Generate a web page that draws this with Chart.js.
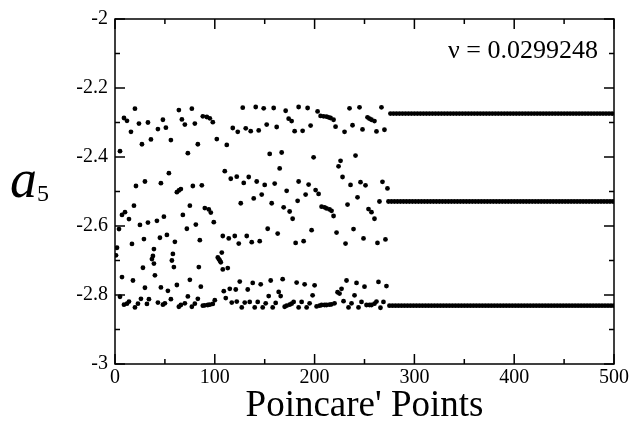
<!DOCTYPE html>
<html lang="en">
<head>
<meta charset="UTF-8">
<title>a5 Poincare' points</title>
<script src="https://cdn.jsdelivr.net/npm/chart.js@4.4.1/dist/chart.umd.min.js"></script>
<style>
  html, body { margin: 0; padding: 0; background: #fff; }
</style>
</head>
<body>
<canvas id="chart" width="632" height="426"></canvas>
<script>
// transient part
const upperX = [5,9,12,16,20,24,27,33,36,43,48,51,56,64,67,70,73,77,80,83,88,92,95,98,102,112,118,123,128,131,136,141,144,149,152,155,159,162,167,171,174,177,180,184,188,193,196,203,206,209,212,214,216,219,221,230,235,238,245,248,253,255,257,260,262,267,270];
const upperY = [-2.383,-2.287,-2.295,-2.327,-2.260,-2.303,-2.363,-2.300,-2.349,-2.319,-2.292,-2.315,-2.351,-2.264,-2.291,-2.306,-2.389,-2.260,-2.303,-2.363,-2.282,-2.284,-2.288,-2.299,-2.348,-2.365,-2.316,-2.327,-2.257,-2.317,-2.325,-2.255,-2.323,-2.259,-2.306,-2.391,-2.258,-2.313,-2.387,-2.266,-2.289,-2.296,-2.325,-2.255,-2.324,-2.258,-2.309,-2.268,-2.281,-2.282,-2.283,-2.285,-2.287,-2.292,-2.312,-2.327,-2.259,-2.308,-2.256,-2.320,-2.285,-2.289,-2.292,-2.296,-2.326,-2.256,-2.321];

const middleX = [1,2,4,7,7,10,14,17,18,19,21,25,28,29,30,30,33,37,38,39,39,40,42,45,46,46,49,52,53,54,57,58,59,60,62,62,64,66,68,72,75,75,78,81,84,85,86,87,90,94,96,99,103,104,105,106,107,108,108,110,113,114,116,120,122,124,126,129,132,134,137,139,142,145,147,150,153,157,160,163,165,169,172,175,178,181,183,184,189,191,194,197,199,201,204,207,210,212,215,217,219,222,224,226,228,231,233,236,239,241,243,246,249,251,254,257,260,263,265,268,271,273];
const middleY = [-2.685,-2.663,-2.609,-2.748,-2.568,-2.560,-2.580,-2.652,-2.758,-2.541,-2.484,-2.597,-2.721,-2.638,-2.779,-2.471,-2.590,-2.696,-2.687,-2.709,-2.667,-2.743,-2.585,-2.634,-2.778,-2.476,-2.573,-2.626,-2.788,-2.447,-2.700,-2.681,-2.719,-2.646,-2.771,-2.502,-2.497,-2.493,-2.568,-2.608,-2.756,-2.541,-2.484,-2.596,-2.719,-2.641,-2.776,-2.482,-2.548,-2.552,-2.561,-2.589,-2.691,-2.696,-2.700,-2.705,-2.677,-2.726,-2.629,-2.441,-2.722,-2.636,-2.463,-2.629,-2.457,-2.651,-2.534,-2.475,-2.629,-2.458,-2.647,-2.520,-2.471,-2.644,-2.509,-2.481,-2.608,-2.534,-2.477,-2.622,-2.433,-2.546,-2.498,-2.558,-2.579,-2.649,-2.527,-2.471,-2.644,-2.509,-2.480,-2.612,-2.401,-2.496,-2.507,-2.544,-2.546,-2.549,-2.552,-2.556,-2.571,-2.619,-2.427,-2.411,-2.458,-2.651,-2.538,-2.481,-2.609,-2.396,-2.517,-2.473,-2.636,-2.482,-2.551,-2.560,-2.579,-2.649,-2.529,-2.472,-2.639,-2.491];

const lowerX = [5,9,12,14,20,23,26,32,34,43,48,50,56,64,66,70,73,77,80,83,88,90,93,95,98,100,109,111,115,117,121,122,125,127,130,133,135,138,140,143,146,148,151,154,156,158,161,164,166,168,170,172,175,177,179,182,184,187,190,192,195,198,200,202,205,207,210,212,215,217,220,223,225,227,229,232,234,237,240,242,244,247,250,252,255,257,260,262,264,266,269,272];
const lowerY = [-2.805,-2.828,-2.825,-2.819,-2.836,-2.825,-2.811,-2.826,-2.812,-2.822,-2.828,-2.824,-2.812,-2.834,-2.829,-2.824,-2.804,-2.834,-2.825,-2.811,-2.831,-2.830,-2.829,-2.828,-2.826,-2.815,-2.789,-2.809,-2.782,-2.822,-2.784,-2.819,-2.761,-2.836,-2.822,-2.784,-2.820,-2.765,-2.836,-2.820,-2.769,-2.836,-2.824,-2.803,-2.758,-2.836,-2.823,-2.791,-2.803,-2.754,-2.834,-2.831,-2.828,-2.825,-2.820,-2.764,-2.836,-2.820,-2.769,-2.836,-2.824,-2.801,-2.772,-2.833,-2.831,-2.829,-2.829,-2.829,-2.828,-2.827,-2.824,-2.792,-2.796,-2.782,-2.818,-2.758,-2.836,-2.824,-2.801,-2.765,-2.836,-2.820,-2.776,-2.829,-2.829,-2.829,-2.825,-2.819,-2.762,-2.837,-2.820,-2.774];

// settled period-3 orbit from ~274 to the end
const tailStart = 274;
const tailEnd = 500;
const tailLevels = [-2.274, -2.529, -2.831];

const xTicks = [0, 100, 200, 300, 400, 500];
const xMinorTicks = [50, 150, 250, 350, 450];
const yTicks = [-3, -2.8, -2.6, -2.4, -2.2, -2];
const yMinorTicks = [-2.9, -2.7, -2.5, -2.3, -2.1];

const nuLabel = 'ν = 0.0299248';

const pts = [];
upperX.forEach((x, i) => pts.push({x: x, y: upperY[i]}));
middleX.forEach((x, i) => pts.push({x: x, y: middleY[i]}));
lowerX.forEach((x, i) => pts.push({x: x, y: lowerY[i]}));
for (let i = tailStart; i <= tailEnd; i++) {
  pts.push({x: i, y: tailLevels[i % 3]});
}

const serif = '"Liberation Serif", "DejaVu Serif", serif';

const frame = {
  id: 'frame',
  afterDatasetsDraw(chart) {
    const ctx = chart.ctx;
    const a = chart.chartArea;
    const sx = chart.scales.x, sy = chart.scales.y;
    ctx.save();
    ctx.strokeStyle = '#000';
    ctx.lineWidth = 1.5;
    ctx.strokeRect(a.left, a.top, a.right - a.left, a.bottom - a.top);
    ctx.beginPath();
    const xt = (v, len) => {
      const p = sx.getPixelForValue(v);
      ctx.moveTo(p, a.bottom); ctx.lineTo(p, a.bottom - len);
      ctx.moveTo(p, a.top); ctx.lineTo(p, a.top + len);
    };
    const yt = (v, len) => {
      const p = sy.getPixelForValue(v);
      ctx.moveTo(a.left, p); ctx.lineTo(a.left + len, p);
      ctx.moveTo(a.right, p); ctx.lineTo(a.right - len, p);
    };
    xTicks.forEach(v => xt(v, 10));
    xMinorTicks.forEach(v => xt(v, 5));
    yTicks.forEach(v => yt(v, 10));
    yMinorTicks.forEach(v => yt(v, 5));
    ctx.stroke();

    // nu annotation
    ctx.fillStyle = '#000';
    ctx.font = '26px ' + serif;
    ctx.textAlign = 'right';
    ctx.textBaseline = 'alphabetic';
    ctx.fillText(nuLabel, 598, 58);

    // y title: a with subscript 5
    ctx.textAlign = 'left';
    ctx.font = 'italic 54px ' + serif;
    ctx.fillText('a', 10, 197);
    ctx.font = '24px ' + serif;
    ctx.fillText('5', 37, 201);
    ctx.restore();
  }
};

new Chart(document.getElementById('chart'), {
  type: 'scatter',
  data: {
    datasets: [{
      data: pts,
      backgroundColor: '#000',
      borderColor: '#000',
      pointRadius: 2.4,
      borderWidth: 0
    }]
  },
  options: {
    responsive: false,
    animation: false,
    devicePixelRatio: 1,
    layout: { padding: { top: 17, right: 18, left: 0, bottom: 0 } },
    plugins: { legend: { display: false }, tooltip: { enabled: false } },
    scales: {
      x: {
        type: 'linear', min: 0, max: 500,
        afterFit: s => { s.height = 62; },
        grid: { display: false, drawTicks: false },
        border: { display: false },
        ticks: { stepSize: 100, padding: 2, color: '#000', font: { family: serif, size: 20 } },
        title: { display: true, text: "Poincare' Points", color: '#000', font: { family: serif, size: 37, lineHeight: 1.05 }, padding: 0 }
      },
      y: {
        type: 'linear', min: -3, max: -2,
        afterFit: s => { s.width = 115; },
        grid: { display: false, drawTicks: false },
        border: { display: false },
        ticks: {
          stepSize: 0.2, padding: 7, color: '#000', font: { family: serif, size: 20 },
          callback: v => String(Math.round(v * 10) / 10)
        }
      }
    }
  },
  plugins: [frame]
});
</script>
</body>
</html>
